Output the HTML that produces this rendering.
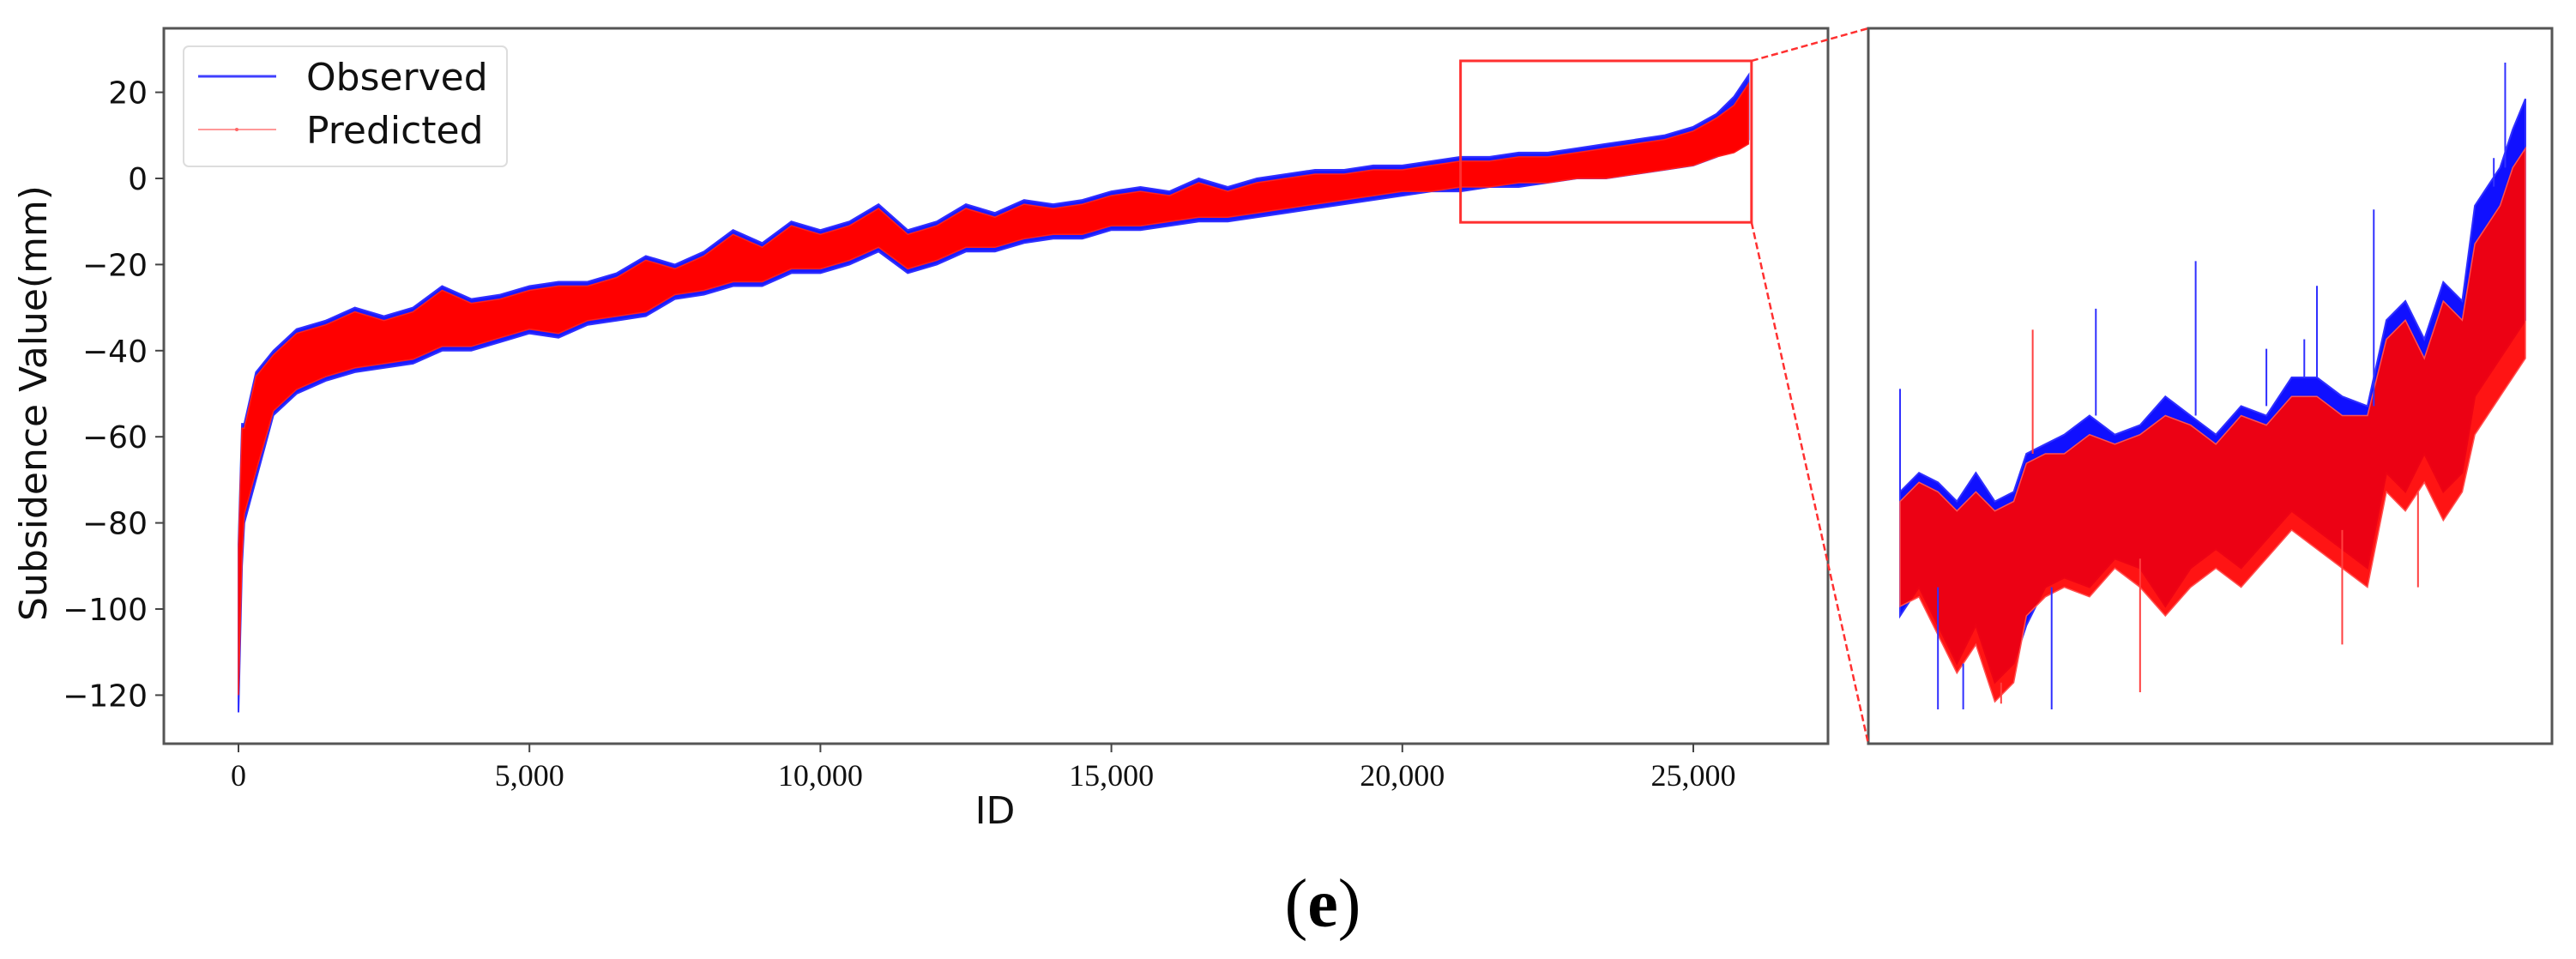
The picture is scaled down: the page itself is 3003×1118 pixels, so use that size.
<!DOCTYPE html>
<html><head><meta charset="utf-8"><style>
html,body{margin:0;padding:0;background:#fff;}
svg{display:block;}
</style></head><body>
<svg id="fig" width="3003" height="1118" xmlns="http://www.w3.org/2000/svg">
<rect x="0" y="0" width="3003" height="1118" fill="#fff"/>
<g id="main"></g>
<g id="zoom"></g>
<g id="axes"></g>
<text x="42" y="470" transform="rotate(-90 42 470)" text-anchor="middle" dominant-baseline="middle" font-family="DejaVu Sans, Liberation Sans, sans-serif" font-size="44" fill="#111">Subsidence Value(mm)</text>
<text x="1160" y="960" text-anchor="middle" font-family="DejaVu Sans, Liberation Sans, sans-serif" font-size="44" fill="#111">ID</text>
<text x="1542" y="1080" text-anchor="middle" font-family="Liberation Serif, serif" font-size="80" fill="#000">(<tspan font-weight="bold">e</tspan>)</text>
<g>
<rect x="214" y="54" width="377" height="140" rx="6" fill="#fff" stroke="#ddd" stroke-width="2"/>
<line x1="231" y1="89" x2="322" y2="89" stroke="#4040ff" stroke-width="3"/>
<text x="357" y="105" font-family="DejaVu Sans, Liberation Sans, sans-serif" font-size="44" fill="#111">Observed</text>
<line x1="231" y1="151" x2="322" y2="151" stroke="#ff9999" stroke-width="2"/>
<circle cx="276" cy="151" r="2" fill="#ff6666"/>
<text x="357" y="167" font-family="DejaVu Sans, Liberation Sans, sans-serif" font-size="44" fill="#111">Predicted</text>
</g>
</svg>
<script>
// Main chart data: id, observed / predicted envelope low/high (mm)
const ids   = [0,60,100,300,600,1000,1500,2000,2500,3000,3500,4000,4500,5000,5500,6000,6500,7000,7500,8000,8500,9000,9500,10000,10500,11000,11500,12000,12500,13000,13500,14000,14500,15000,15500,16000,16500,17000,17500,18000,18500,19000,19500,20000,20500,21000,21500,22000,22500,23000,23500,24000,24500,25000,25400,25700,25950];
const obsLo = [-124,-90,-80,-70,-55,-50,-47,-45,-44,-43,-40,-40,-38,-36,-37,-34,-33,-32,-28,-27,-25,-25,-22,-22,-20,-17,-22,-20,-17,-17,-15,-14,-14,-12,-12,-11,-10,-10,-9,-8,-7,-6,-5,-4,-3,-3,-2,-2,-1,0,0,1,2,3,5,7,9];
const obsHi = [-85,-57,-57,-45,-40,-35,-33,-30,-32,-30,-25,-28,-27,-25,-24,-24,-22,-18,-20,-17,-12,-15,-10,-12,-10,-6,-12,-10,-6,-8,-5,-6,-5,-3,-2,-3,0,-2,0,1,2,2,3,3,4,5,5,6,6,7,8,9,10,12,15,19,24];
const predLo = [-120,-88,-78,-68,-54,-49,-46,-44,-43,-42,-39,-39,-37,-35,-36,-33,-32,-31,-27,-26,-24,-24,-21,-21,-19,-16,-21,-19,-16,-16,-14,-13,-13,-11,-11,-10,-9,-9,-8,-7,-6,-5,-4,-3,-3,-2,-2,-1,-1,0,0,1,2,3,5,6,8];
const predHi = [-86,-58,-58,-46,-41,-36,-34,-31,-33,-31,-26,-29,-28,-26,-25,-25,-23,-19,-21,-18,-13,-16,-11,-13,-11,-7,-13,-11,-7,-9,-6,-7,-6,-4,-3,-4,-1,-3,-1,0,1,1,2,2,3,4,4,5,5,6,7,8,9,11,14,17,22];
const yTicks = [20,0,-20,-40,-60,-80,-100,-120];
const xTicks = [0,5000,10000,15000,20000,25000];
const xTickLabels = ["0","5,000","10,000","15,000","20,000","25,000"];
// Zoom panel data
const zIds   = [21000,21150,21300,21450,21600,21750,21900,22000,22150,22300,22500,22700,22900,23100,23300,23500,23700,23900,24100,24300,24500,24700,24850,25000,25150,25300,25450,25550,25650,25750,25850,25950];
const zObsLo = [-3.5,-2,-4,-6,-4,-7,-6,-4,-2,-1.5,-2,-0.5,-1,-3,-1,0,-1,0.5,2,1,0,-1,4,3,5,3,4,8,9,10,11,12];
const zObsHi = [3.0,4,3.5,2.5,4,2.5,3,5,5.5,6,7,6,6.5,8,7,6,7.5,7,9,9,8,7.5,12,13,11,14,13,18,19,20,22,23.6];
const zPredLo = [-3,-2.5,-4.5,-6.5,-5,-8,-7,-3.5,-2.5,-2,-2.5,-1,-2,-3.5,-2,-1,-2,-0.5,1,0,-1,-2,3,2,3.5,1.5,3,6,7,8,9,10];
const zPredHi = [2.5,3.5,3,2,3,2,2.5,4.5,5,5,6,5.5,6,7,6.5,5.5,7,6.5,8,8,7,7,11,12,10,13,12,16,17,18,20,21];
const spikeIds = [21000,21300,21500,22050,22200,22550,23340,24300,24750,25700,25790,21800,22900,24500,25100,23900,24200];
const spikeVals = [8.4,-8.4,-8.4,11.5,-8.4,12.6,15.1,13.8,17.8,20.5,25.5,-8.1,-7.5,-5,-2,10.5,11];
const spikeSeries = ["o","o","o","p","o","o","o","o","o","o","o","p","p","p","p","o","o"];

const NS="http://www.w3.org/2000/svg";
const X0=191,X1=2131,Y0=33,Y1=867;
function xs(id){return 278+id*0.06784;}
function ys(v){return 208-v*5.02;}
function zx(id){return 2215+(id-21000)/(25950-21000)*729;}
const zTop=27.3,zBot=-10.2;
function zy(v){return 33+(zTop-v)/(zTop-zBot)*834;}
function mk(tag,attrs,parent){const e=document.createElementNS(NS,tag);for(const k in attrs)e.setAttribute(k,attrs[k]);parent.appendChild(e);return e;}
function band(xa,lo,hi,fx,fy){let p=[];for(let i=0;i<xa.length;i++)p.push(fx(xa[i]).toFixed(1)+","+fy(hi[i]).toFixed(1));for(let i=xa.length-1;i>=0;i--)p.push(fx(xa[i]).toFixed(1)+","+fy(lo[i]).toFixed(1));return p.join(" ");}

const main=document.getElementById('main');
const ob=mk('polygon',{points:band(ids,obsLo,obsHi,xs,ys),fill:'#1a1aff',stroke:'#3030ff','stroke-width':2},main);


const pr=mk('polygon',{points:band(ids,predLo,predHi,xs,ys),fill:'#ff0000',stroke:'#ff2020','stroke-width':1.5},main);



const zoom=document.getElementById('zoom');
const zob=mk('polygon',{points:band(zIds,zObsLo,zObsHi,zx,zy),fill:'#1010ff',stroke:'#3030ff','stroke-width':2},zoom);


const zpr=mk('polygon',{points:band(zIds,zPredLo,zPredHi,zx,zy),fill:'#ff0000','fill-opacity':0.92,stroke:'#ff5050','stroke-width':1.5},zoom);


for(let i=0;i<spikeIds.length;i++){
  let j=0;while(j<zIds.length-1&&zIds[j+1]<spikeIds[i])j++;
  const base=spikeVals[i]>0?zObsHi[j]:zObsLo[j];
  const s=mk('line',{x1:zx(spikeIds[i]),x2:zx(spikeIds[i]),y1:zy(base),y2:zy(spikeVals[i]),stroke:spikeSeries[i]==='o'?'#3030ff':'#ff4040','stroke-width':2},zoom);
  
  
}

const ax=document.getElementById('axes');
const fr=mk('rect',{x:X0,y:Y0,width:X1-X0,height:Y1-Y0,fill:'none',stroke:'#555','stroke-width':3},ax);


const zf=mk('rect',{x:2178,y:33,width:797,height:834,fill:'none',stroke:'#555','stroke-width':3},ax);


const zr=mk('rect',{x:xs(21000),y:ys(27.3),width:xs(26000)-xs(21000),height:ys(-10.2)-ys(27.3),fill:'none',stroke:'#ff3030','stroke-width':3},ax);


const d1=mk('line',{x1:xs(26000),y1:ys(27.3),x2:2178,y2:33,stroke:'#ff3030','stroke-width':2.5,'stroke-dasharray':'8,4'},ax);


const d2=mk('line',{x1:xs(26000),y1:ys(-10.2),x2:2178,y2:867,stroke:'#ff3030','stroke-width':2.5,'stroke-dasharray':'8,4'},ax);


yTicks.forEach(v=>{
  const t=mk('line',{x1:X0-10,x2:X0,y1:ys(v),y2:ys(v),stroke:'#444','stroke-width':2},ax);
  
  
  const l=mk('text',{x:172,y:ys(v)+13,'text-anchor':'end','font-family':'DejaVu Sans, Liberation Sans, sans-serif','font-size':36,fill:'#111'},ax);
  l.textContent=(v<0?'\u2212'+(-v):String(v));
  
  
});
xTicks.forEach((v,i)=>{
  const t=mk('line',{x1:xs(v),x2:xs(v),y1:Y1,y2:Y1+10,stroke:'#444','stroke-width':2},ax);
  
  
  const l=mk('text',{x:xs(v),y:916,'text-anchor':'middle','font-family':'Liberation Serif, serif','font-size':36,fill:'#111'},ax);
  l.textContent=xTickLabels[i];
  
  
});
</script>
</body></html>
